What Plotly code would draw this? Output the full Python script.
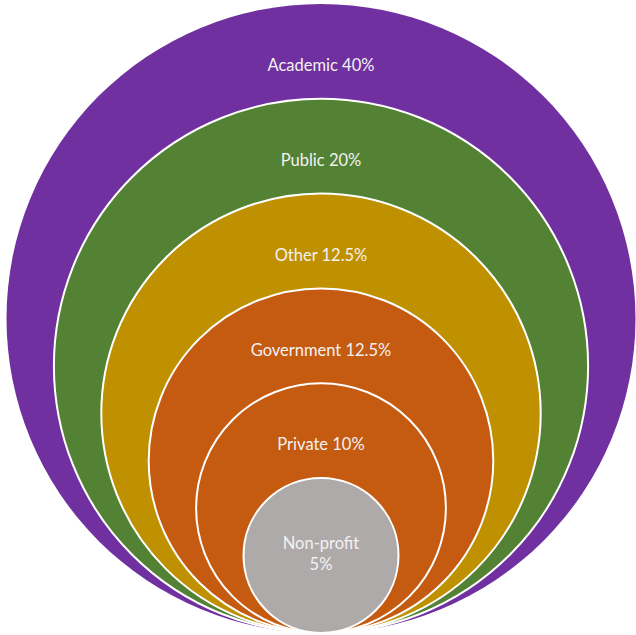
import plotly.graph_objects as go

labels = ["Academic", "Public", "Other", "Government", "Private", "Non-profit"]
shares = ["40%", "20%", "12.5%", "12.5%", "10%", "5%"]
colors = ["#7030A0", "#548235", "#BF9000", "#C55A11", "#C55A11", "#AEAAAA"]
levels = [0, 1, 2, 3, 4, 5]

W, H = 636, 635
cx = 321
bottom = 633
r_outer = 314.5
step = 47.4
label_offset = 63

fig = go.Figure()
shapes = []
tx, ty, tt = [], [], []
for lab, sh, col, lv in zip(labels, shares, colors, levels):
    r = r_outer - lv * step
    top = bottom - 2 * r
    shapes.append(dict(
        type="circle", xref="x", yref="y",
        x0=cx - r, x1=cx + r, y0=top, y1=bottom,
        fillcolor=col,
        line=dict(color="white" if lv > 0 else col, width=2 if lv > 0 else 0),
        layer="below",
    ))
    if lv == len(levels) - 1:
        tx.append(cx); ty.append(bottom - r); tt.append(f"{lab}<br>{sh}")
    else:
        tx.append(cx); ty.append(top + label_offset); tt.append(f"{lab} {sh}")

fig.add_trace(go.Scatter(
    x=tx, y=ty, text=tt, mode="text",
    textfont=dict(family="Lato, Open Sans, sans-serif", size=16.5, color="#F2F2F2"),
    hoverinfo="skip", showlegend=False,
))

fig.update_layout(
    width=W, height=H,
    margin=dict(l=0, r=0, t=0, b=0),
    paper_bgcolor="white", plot_bgcolor="white",
    shapes=shapes,
    xaxis=dict(range=[0, W], visible=False, fixedrange=True),
    yaxis=dict(range=[H, 0], visible=False, fixedrange=True),
    showlegend=False,
)
fig.write_html(
    "out.html",
    config={"displayModeBar": False},
    post_script="document.body.style.margin='0';document.body.style.overflow='hidden';",
)
